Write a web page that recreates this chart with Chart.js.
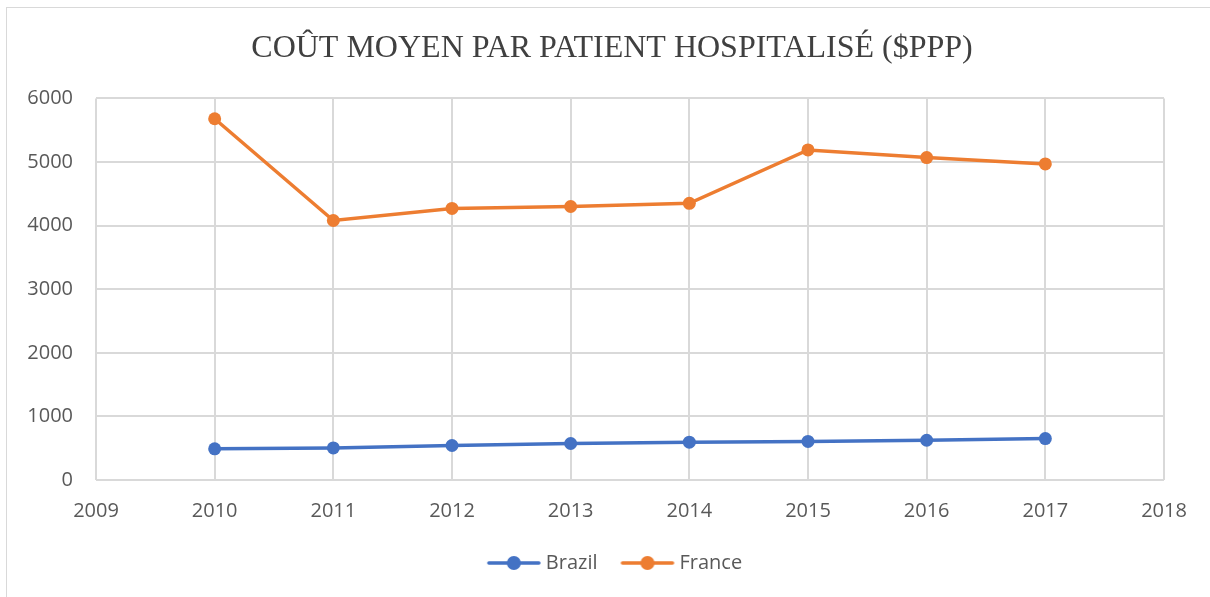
<!DOCTYPE html>
<html>
<head>
<meta charset="utf-8">
<script src="https://cdn.jsdelivr.net/npm/chart.js@4/dist/chart.umd.min.js"></script>
<style>
    body { margin: 0; background: #fff; overflow: hidden; }
    #frame {
        position: absolute; left: 6px; top: 7px; width: 1230px; height: 620px;
        border: 1px solid #d9d9d9; box-sizing: border-box;
    }
    #wrap { position: absolute; left: 0; top: 0; width: 1210px; height: 597px; }
</style>
</head>
<body>
<div id="frame"></div>
<div id="wrap"><canvas id="costChart"></canvas></div>
<script>
// Data
const years = [2010, 2011, 2012, 2013, 2014, 2015, 2016, 2017];
const brazil = [490, 505, 542, 574, 595, 607, 625, 652];
const france = [5680, 4080, 4270, 4300, 4350, 5190, 5070, 4970];
const yTicks = [0, 1000, 2000, 3000, 4000, 5000, 6000];
const xMin = 2009;
const xMax = 2018;

const BLUE = '#4472C4';
const ORANGE = '#ED7D31';
const TICK_FONT = { family: '"Open Sans", "Noto Sans", sans-serif', size: 20 };

// Legend symbol: line with a dot in the middle (blank margin on the left for spacing)
function legendSymbol(color) {
    const c = document.createElement('canvas');
    c.width = 82;
    c.height = 16;
    const g = c.getContext('2d');
    g.strokeStyle = color;
    g.lineWidth = 3.5;
    g.lineCap = 'round';
    g.beginPath();
    g.moveTo(25, 8);
    g.lineTo(75, 8);
    g.stroke();
    g.fillStyle = color;
    g.beginPath();
    g.arc(50, 8, 7, 0, Math.PI * 2);
    g.fill();
    return c;
}

function toPoints(values) {
    return years.map((y, i) => ({ x: y, y: values[i] }));
}

// Center title and legend like the original (they sit a bit right of the canvas middle)
const shiftBlocks = {
    id: 'shiftBlocks',
    afterLayout(chart) {
        chart.titleBlock.left = 60;
        chart.legend.left = 52;
    }
};

const ctx = document.getElementById('costChart').getContext('2d');

new Chart(ctx, {
    type: 'line',
    data: {
        datasets: [
            {
                label: 'Brazil',
                data: toPoints(brazil),
                borderColor: BLUE,
                backgroundColor: BLUE,
                borderWidth: 3.5,
                pointRadius: 6.5,
                pointHoverRadius: 6.5,
                pointBorderWidth: 0,
                tension: 0
            },
            {
                label: 'France',
                data: toPoints(france),
                borderColor: ORANGE,
                backgroundColor: ORANGE,
                borderWidth: 3.5,
                pointRadius: 6.5,
                pointHoverRadius: 6.5,
                pointBorderWidth: 0,
                tension: 0
            }
        ]
    },
    options: {
        responsive: true,
        maintainAspectRatio: false,
        animation: false,
        layout: { padding: { left: 0, right: 46, top: 0, bottom: 14 } },
        plugins: {
            title: {
                display: true,
                text: 'COÛT MOYEN PAR PATIENT HOSPITALISÉ ($PPP)',
                color: '#404040',
                font: { family: '"Liberation Serif", "DejaVu Serif", serif', size: 32, weight: 'normal' },
                padding: { top: 29, bottom: 31 }
            },
            legend: {
                position: 'bottom',
                labels: {
                    color: '#595959',
                    font: TICK_FONT,
                    usePointStyle: true,
                    pointStyleWidth: 62,
                    padding: 10,
                    generateLabels: (chart) => chart.data.datasets.map((ds, i) => ({
                        text: ds.label,
                        fontColor: '#595959',
                        pointStyle: legendSymbol(ds.borderColor),
                        datasetIndex: i,
                        lineWidth: 0,
                        hidden: false
                    }))
                }
            },
            tooltip: { enabled: false }
        },
        scales: {
            x: {
                type: 'linear',
                min: xMin,
                max: xMax,
                afterBuildTicks: (scale) => {
                    scale.ticks = [];
                    for (let v = xMin; v <= xMax; v++) scale.ticks.push({ value: v });
                },
                afterFit: (scale) => { scale.height = 63; },
                grid: { color: '#d9d9d9', lineWidth: 2, drawTicks: false },
                border: { display: false },
                ticks: {
                    color: '#595959',
                    font: TICK_FONT,
                    padding: 19,
                    callback: (v) => String(v)
                }
            },
            y: {
                min: 0,
                max: 6000,
                afterBuildTicks: (scale) => {
                    scale.ticks = yTicks.map(v => ({ value: v }));
                },
                afterFit: (scale) => { scale.width = 96; },
                grid: { color: '#d9d9d9', lineWidth: 2, drawTicks: false },
                border: { display: false },
                ticks: {
                    color: '#595959',
                    font: TICK_FONT,
                    padding: 23,
                    callback: (v) => String(v)
                }
            }
        }
    },
    plugins: [shiftBlocks]
});
</script>
</body>
</html>
